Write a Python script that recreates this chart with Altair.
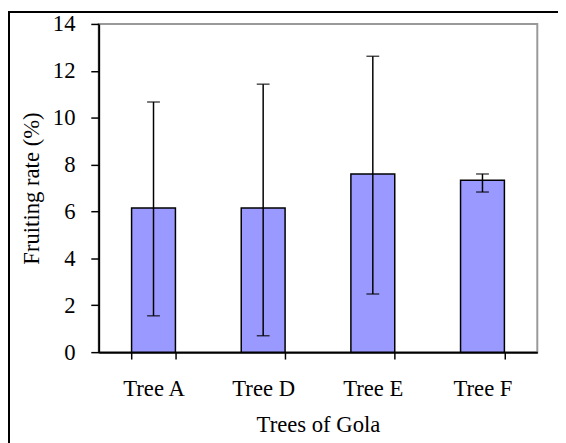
import altair as alt
import pandas as pd

trees = ["Tree A", "Tree D", "Tree E", "Tree F"]
rate = [6.15, 6.15, 7.6, 7.33]
err_low = [1.55, 0.7, 2.48, 6.83]
err_high = [10.67, 11.43, 12.62, 7.6]
y_ticks = [0, 2, 4, 6, 8, 10, 12, 14]

df = pd.DataFrame({"tree": trees, "rate": rate, "lo": err_low, "hi": err_high})

FONT = "Liberation Serif"
W, H = 445, 333

x = alt.X("tree:N", sort=trees, title="Trees of Gola",
          scale=alt.Scale(paddingInner=0.6, paddingOuter=0.3),
          axis=alt.Axis(labelAngle=0, tickBand="extent", tickSize=7, tickColor="black",
                        tickWidth=1.5, domainColor="black", domainWidth=2,
                        labelPadding=30, labelBaseline="middle",
                        titleY=74, titleBaseline="middle"))
y = alt.Y("rate:Q", title="Fruiting rate (%)",
          scale=alt.Scale(domain=[0, 14], nice=False),
          axis=alt.Axis(values=y_ticks, tickSize=8, tickColor="black", tickWidth=1.5,
                        domainColor="black", domainWidth=2, grid=False,
                        labelPadding=16, labelBaseline="middle",
                        titleX=-68, titleY=H / 2, titleAngle=-90,
                        titleAlign="center", titleBaseline="middle"))

bars = alt.Chart(df).mark_bar(fill="#9999FF", stroke="black", strokeWidth=1.5).encode(x=x, y=y)
rules = alt.Chart(df).mark_rule(color="black", strokeWidth=1.5).encode(
    x=alt.X("tree:N", sort=trees), y="lo:Q", y2="hi:Q")
cap_lo = alt.Chart(df).mark_tick(color="black", thickness=1.5, size=13).encode(
    x=alt.X("tree:N", sort=trees), y="lo:Q")
cap_hi = alt.Chart(df).mark_tick(color="black", thickness=1.5, size=13).encode(
    x=alt.X("tree:N", sort=trees), y="hi:Q")
frame = alt.Chart(df).mark_rect(fill=None, stroke="black", strokeWidth=2).encode(
    x=alt.value(-91), x2=alt.value(1500), y=alt.value(-12), y2=alt.value(1500))

chart = alt.layer(frame, bars, rules, cap_lo, cap_hi).properties(
    width=W, height=H,
    autosize=alt.AutoSizeParams(type="none"),
    padding={"left": 92, "top": 13, "right": 21, "bottom": 89},
    background="white",
).configure_view(stroke="#999999", strokeWidth=2).configure_axis(
    labelFont=FONT, titleFont=FONT, labelFontSize=23, titleFontSize=23,
    labelColor="black", titleColor="black", titleFontWeight="normal"
)

chart.save("out.html", embed_options={"renderer": "svg", "actions": False})
